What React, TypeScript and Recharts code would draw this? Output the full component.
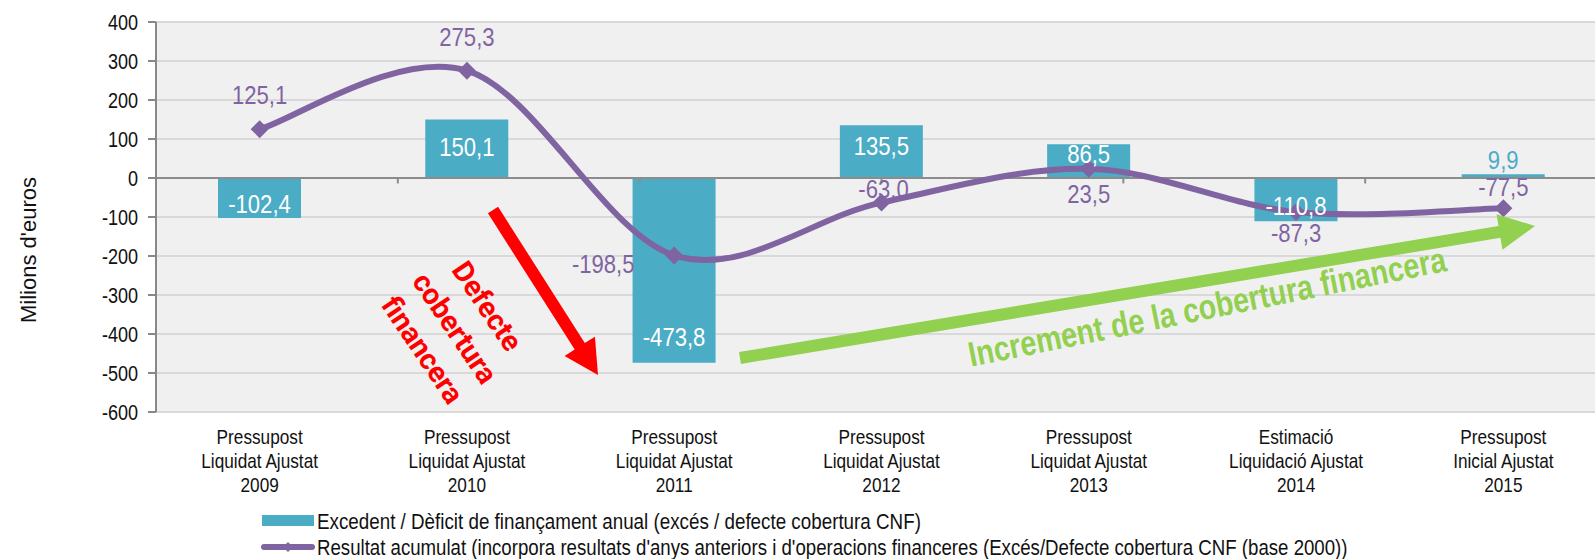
import React from "react";
import { Bar, CartesianGrid, ComposedChart, LabelList, Line, ReferenceLine, XAxis, YAxis } from "recharts";

const headings = ["Pressupost", "Pressupost", "Pressupost", "Pressupost", "Pressupost", "Estimació", "Pressupost"];
const stages = ["Liquidat Ajustat", "Liquidat Ajustat", "Liquidat Ajustat", "Liquidat Ajustat", "Liquidat Ajustat", "Liquidació Ajustat", "Inicial Ajustat"];
const years = ["2009", "2010", "2011", "2012", "2013", "2014", "2015"];
const annualBalance = [-102.4, 150.1, -473.8, 135.5, 86.5, -110.8, 9.9];
const accumulatedResult = [125.1, 275.3, -198.5, -63.0, 23.5, -87.3, -77.5];
const yTicks = [-600, -500, -400, -300, -200, -100, 0, 100, 200, 300, 400];
const categoryEdges = [1, 2, 3, 4, 5, 6];

const BAR = "#4BACC6";
const LINE = "#8064A2";
const SANS = "'Liberation Sans', Arial, sans-serif";

const data = years.map((year, i) => ({
  year,
  heading: headings[i],
  stage: stages[i],
  annual: annualBalance[i],
  accumulated: accumulatedResult[i],
}));

const fmt = (v: number) => v.toFixed(1).replace(".", ",");

// label nudges (px)
const barLabelShift = [14, 27, 26, 21, 10, 15, -14];
const lineLabelShift = [
  [0, -34],
  [0, -34],
  [-71, 8],
  [2, -14],
  [0, 25],
  [0, 21],
  [0, -21],
];

// Arial Narrow look-alike: Liberation Sans squeezed horizontally
function NText({ x, y, scale = 0.82, rotate = 0, children, ...rest }: any) {
  return (
    <text transform={`translate(${x} ${y}) rotate(${rotate}) scale(${scale} 1)`} x={0} y={0} fontFamily={SANS} dominantBaseline="central" {...rest}>
      {children}
    </text>
  );
}

// excel-like smoothed line (catmull-rom through the points)
function smoothCurve(context: any) {
  let pts: number[][] = [];
  return {
    areaStart() {},
    areaEnd() {},
    lineStart() {
      pts = [];
    },
    point(x: number, y: number) {
      pts.push([+x, +y]);
    },
    lineEnd() {
      if (!pts.length) return;
      context.moveTo(pts[0][0], pts[0][1]);
      for (let i = 0; i < pts.length - 1; i++) {
        const p0 = pts[Math.max(i - 1, 0)];
        const p1 = pts[i];
        const p2 = pts[i + 1];
        const p3 = pts[Math.min(i + 2, pts.length - 1)];
        context.bezierCurveTo(
          p1[0] + (p2[0] - p0[0]) / 6,
          p1[1] + (p2[1] - p0[1]) / 6,
          p2[0] - (p3[0] - p1[0]) / 6,
          p2[1] - (p3[1] - p1[1]) / 6,
          p2[0],
          p2[1]
        );
      }
    },
  };
}

function BarValue(props: any) {
  const { x, y, width, height, value, index } = props;
  const top = Math.min(y, y + height);
  const bottom = Math.max(y, y + height);
  const s = barLabelShift[index];
  const cy = value >= 0 ? top + s : bottom - s;
  return (
    <NText x={x + width / 2} y={cy} scale={0.85} textAnchor="middle" fill={s < 0 ? BAR : "#fff"} fontSize={26}>
      {fmt(value)}
    </NText>
  );
}

function LineValue(props: any) {
  const { x, y, value, index } = props;
  const [dx, dy] = lineLabelShift[index];
  return (
    <NText x={x + dx} y={y + dy} scale={0.85} textAnchor="middle" fill={LINE} fontSize={26}>
      {fmt(value)}
    </NText>
  );
}

function Diamond(props: any) {
  const { cx, cy, index } = props;
  const r = 9;
  return <polygon key={`d${index}`} points={`${cx},${cy - r} ${cx + r},${cy} ${cx},${cy + r} ${cx - r},${cy}`} fill={LINE} />;
}

function CategoryTick(props: any) {
  const { x, y, payload } = props;
  const d = data[years.indexOf(payload.value)];
  return (
    <g fill="#111">
      <NText x={x} y={y + 25} textAnchor="middle" fontSize={21}>{d.heading}</NText>
      <NText x={x} y={y + 49} textAnchor="middle" fontSize={21}>{d.stage}</NText>
      <NText x={x} y={y + 73} textAnchor="middle" fontSize={21}>{d.year}</NText>
    </g>
  );
}

function ValueTick(props: any) {
  const { x, y, payload } = props;
  return (
    <NText x={x} y={y} textAnchor="end" fontSize={22} fill="#111">
      {payload.value}
    </NText>
  );
}

function arrow(x1: number, y1: number, x2: number, y2: number, shaft: number, headW: number, headL: number) {
  const len = Math.hypot(x2 - x1, y2 - y1);
  const ux = (x2 - x1) / len;
  const uy = (y2 - y1) / len;
  const px = -uy;
  const py = ux;
  const bx = x2 - ux * headL;
  const by = y2 - uy * headL;
  const p = [
    [x1 + (px * shaft) / 2, y1 + (py * shaft) / 2],
    [bx + (px * shaft) / 2, by + (py * shaft) / 2],
    [bx + (px * headW) / 2, by + (py * headW) / 2],
    [x2, y2],
    [bx - (px * headW) / 2, by - (py * headW) / 2],
    [bx - (px * shaft) / 2, by - (py * shaft) / 2],
    [x1 - (px * shaft) / 2, y1 - (py * shaft) / 2],
  ];
  return p.map((q) => q.join(",")).join(" ");
}

export default function App() {
  return (
    <div style={{ position: "absolute", left: 0, top: 0, width: 1595, height: 559, overflow: "hidden", background: "#fff" }}>
      <ComposedChart width={1620} height={559} data={data} margin={{ top: 22, right: 13, bottom: 0, left: 0 }}>
        <CartesianGrid vertical={false} stroke="#D9D9D9" strokeWidth={2} fill="#F0F0F0" />
        <XAxis dataKey="year" height={147} tick={<CategoryTick />} tickSize={0} tickMargin={0} tickLine={false} axisLine={false} interval={0} />
        <XAxis xAxisId="edges" type="number" domain={[0, 7]} tickCount={8} allowDecimals={false} hide />
        <YAxis
          domain={[-600, 400]}
          ticks={yTicks}
          tickCount={11}
          width={156}
          tickSize={8}
          tickMargin={10}
          tick={<ValueTick />}
          axisLine={{ stroke: "#888", strokeWidth: 2 }}
          tickLine={{ stroke: "#888", strokeWidth: 2 }}
        />
        <ReferenceLine y={0} stroke="#8C8C8C" strokeWidth={2} />
        {categoryEdges.map((k) => (
          <ReferenceLine key={k} xAxisId="edges" segment={[{ x: k, y: 0 }, { x: k, y: -14 }]} stroke="#8C8C8C" strokeWidth={2} />
        ))}
        <Bar dataKey="annual" fill={BAR} barSize={83} isAnimationActive={false}>
          <LabelList dataKey="annual" content={BarValue} />
        </Bar>
        <Line dataKey="accumulated" type={smoothCurve as any} stroke={LINE} strokeWidth={6} dot={Diamond} activeDot={false} isAnimationActive={false}>
          <LabelList dataKey="accumulated" content={LineValue} />
        </Line>
      </ComposedChart>
      <svg width={1595} height={559} style={{ position: "absolute", left: 0, top: 0, pointerEvents: "none" }}>
        <text x={28} y={250} transform="rotate(-90 28 250)" textAnchor="middle" dominantBaseline="central" fontSize={22} fontFamily={SANS} fill="#111">
          Milions d'euros
        </text>
        <polygon points={arrow(493, 210, 598, 375, 12, 36, 34)} fill="#FF0000" />
        <g transform="translate(455 328) rotate(56)" fill="#FF0000" fontSize={29} fontWeight={700} fontFamily="Roboto, sans-serif" textAnchor="middle" dominantBaseline="central">
          <text x={0} y={-39}>Defecte</text>
          <text x={0} y={0}>cobertura</text>
          <text x={0} y={39}>financera</text>
        </g>
        <polygon points={arrow(740, 358, 1535, 226, 12, 36, 36)} fill="#92D050" />
        <NText x={1207} y={307} rotate={-11.4} textAnchor="middle" fill="#92D050" fontSize={35} fontWeight={700}>
          Increment de la cobertura financera
        </NText>
        <rect x={262} y={515} width={52} height={11} fill={BAR} />
        <NText x={317} y={521} scale={0.855} fontSize={22} fill="#111">
          Excedent / Dèficit de finançament anual (excés / defecte cobertura CNF)
        </NText>
        <line x1={264} y1={547} x2={312} y2={547} stroke={LINE} strokeWidth={6} strokeLinecap="round" />
        <polygon points="288,542 293,547 288,552 283,547" fill={LINE} />
        <NText x={317} y={547} scale={0.848} fontSize={22} fill="#111">
          Resultat acumulat (incorpora resultats d'anys anteriors i d'operacions financeres (Excés/Defecte cobertura CNF (base 2000))
        </NText>
      </svg>
    </div>
  );
}
